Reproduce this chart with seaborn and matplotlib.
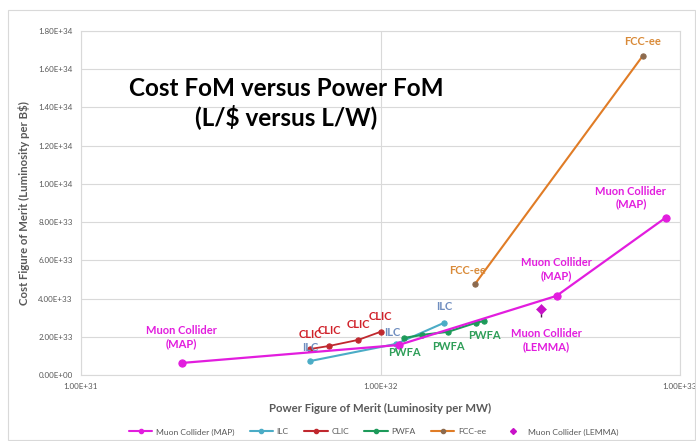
import numpy as np
import pandas as pd
import matplotlib
matplotlib.use("Agg")
import matplotlib.pyplot as plt
from matplotlib.lines import Line2D
from matplotlib.patches import Rectangle
import seaborn as sns

# ---------------- data ----------------
map_x = [2.17e31, 1.15e32, 3.87e32, 8.97e32]
map_y = [6.3e32, 1.57e33, 4.14e33, 8.24e33]
ilc_x = [5.82e31, 1.13e32, 1.63e32]
ilc_y = [7.3e32, 1.63e33, 2.73e33]
clic_x = [5.82e31, 6.74e31, 8.44e31, 1.0e32]
clic_y = [1.36e33, 1.52e33, 1.84e33, 2.26e33]
pwfa_x = [1.20e32, 1.38e32, 1.68e32, 2.08e32, 2.22e32]
pwfa_y = [1.94e33, 2.10e33, 2.26e33, 2.73e33, 2.83e33]
fcc_x = [2.07e32, 7.51e32]
fcc_y = [4.77e33, 1.67e34]
lemma_x = [3.44e32]
lemma_y = [3.46e33]
lemma_err_low = [0.45e33]

series_names = ["Muon Collider (MAP)", "ILC", "CLIC", "PWFA", "FCC-ee", "Muon Collider (LEMMA)"]
y_ticks = [0, 2e33, 4e33, 6e33, 8e33, 1e34, 1.2e34, 1.4e34, 1.6e34, 1.8e34]
x_ticks = [1e31, 1e32, 1e33]

title_text = "Cost FoM versus Power FoM\n(L/$ versus L/W)"
x_label = "Power Figure of Merit (Luminosity per MW)"
y_label = "Cost Figure of Merit (Luminosity per B$)"

# ---------------- style ----------------
sns.set_style("white")
plt.rcParams['font.family'] = ['Lato', 'DejaVu Sans']

c_map = "#E21DDE"
c_ilc = "#4BACC6"
c_ilc_lab = "#6F8DBF"
c_clic = "#C0282E"
c_clic_lab = "#D0212A"
c_pwfa = "#1D9A5A"
c_pwfa_lab = "#2E9E58"
c_fcc = "#E07C26"
c_fcc_mk = "#8C6A4E"
c_fcc_lab = "#D98A38"
c_lemma = "#C811C8"
grey = "#595959"
gridc = "#D9D9D9"

fig = plt.figure(figsize=(6.96, 4.41), dpi=100)
ax = fig.add_axes([81/696, 1 - 375/441, (680-81)/696, (375-31)/441])

# outer chart frame
fig.patches.append(Rectangle((8/696, 1/441), (695-8)/696, (430)/441, transform=fig.transFigure,
                             fill=False, edgecolor=gridc, linewidth=0.8))

def draw(xs, ys, color, mcolor, ms, lw):
    df = pd.DataFrame({"x": xs, "y": ys})
    sns.lineplot(data=df, x="x", y="y", ax=ax, color=color, linewidth=lw, sort=False,
                 estimator=None, marker="o", markersize=ms, markerfacecolor=mcolor,
                 markeredgecolor=mcolor, zorder=3)

draw(fcc_x, fcc_y, c_fcc, c_fcc_mk, 3.8, 1.5)
draw(ilc_x, ilc_y, c_ilc, c_ilc, 3.8, 1.5)
draw(clic_x, clic_y, c_clic, c_clic, 3.8, 1.3)
draw(pwfa_x, pwfa_y, c_pwfa, c_pwfa, 3.8, 1.5)
draw(map_x, map_y, c_map, c_map, 5.2, 1.6)

ax.errorbar(lemma_x, lemma_y, yerr=[lemma_err_low, [0]], fmt="none", ecolor="#4A1A4A",
            elinewidth=1.0, capsize=0, zorder=4)
sns.scatterplot(x=lemma_x, y=lemma_y, ax=ax, marker="D", s=26, color=c_lemma,
                edgecolor=c_lemma, zorder=5)

ax.set_xscale("log")
ax.set_xlim(1e31, 1e33)
ax.set_ylim(0, 1.8e34)
ax.set_xticks(x_ticks)
ax.set_xticklabels(["{:.2E}".format(v) for v in x_ticks])
ax.xaxis.set_minor_locator(matplotlib.ticker.NullLocator())
ax.set_yticks(y_ticks)
ax.set_yticklabels(["{:.2E}".format(v) for v in y_ticks])
ax.tick_params(axis="both", length=0, labelsize=5.8, labelcolor=grey, pad=6)
ax.grid(True, which="major", color=gridc, linewidth=0.8)
ax.set_axisbelow(True)
for s in ax.spines.values():
    s.set_color(gridc)
    s.set_linewidth(0.8)

ax.set_xlabel(x_label, fontsize=8.2, fontweight="bold", color=grey, labelpad=9)
ax.set_ylabel(y_label, fontsize=8.2, fontweight="bold", color=grey, labelpad=6)

ax.text(0.342, 0.79, title_text, transform=ax.transAxes, ha="center", va="center",
        fontsize=17.5, fontweight="bold", color="black", linespacing=1.2)

def lab(x, y, text, color, dx, dy, va="center"):
    ax.annotate(text, xy=(x, y), xytext=(dx, dy), textcoords="offset pixels",
                ha="center", va=va, fontsize=8, fontweight="bold", color=color,
                linespacing=1.2, zorder=6)

# data labels
lab(map_x[0], map_y[0], "Muon Collider\n(MAP)", c_map, 0, 26)
lab(map_x[2], map_y[2], "Muon Collider\n(MAP)", c_map, 0, 27)
lab(map_x[3], map_y[3], "Muon Collider\n(MAP)", c_map, -35, 20)
lab(lemma_x[0], lemma_y[0], "Muon Collider\n(LEMMA)", c_map, 5, -31)
lab(ilc_x[0], ilc_y[0], "ILC", c_ilc_lab, 0, 14)
lab(ilc_x[1], ilc_y[1], "ILC", c_ilc_lab, -4, 11)
lab(ilc_x[2], ilc_y[2], "ILC", c_ilc_lab, 0, 16)
for xx, yy in zip(clic_x, clic_y):
    lab(xx, yy, "CLIC", c_clic_lab, 0, 15)
for i in (0, 2, 4):
    lab(pwfa_x[i], pwfa_y[i], "PWFA", c_pwfa_lab, 0, -15)
lab(fcc_x[0], fcc_y[0], "FCC-ee", c_fcc_lab, -8, 13)
lab(fcc_x[1], fcc_y[1], "FCC-ee", c_fcc_lab, 0, 14)

# legend
handles = [
    Line2D([], [], color=c_map, marker="o", markersize=3, linewidth=1.5),
    Line2D([], [], color=c_ilc, marker="o", markersize=3, linewidth=1.5),
    Line2D([], [], color=c_clic, marker="o", markersize=3, linewidth=1.5),
    Line2D([], [], color=c_pwfa, marker="o", markersize=3, linewidth=1.5),
    Line2D([], [], color=c_fcc, marker="o", markersize=3, markerfacecolor=c_fcc_mk,
           markeredgecolor=c_fcc_mk, linewidth=1.5),
    Line2D([], [], color=c_lemma, marker="D", markersize=3, linewidth=0),
]
fig.legend(handles, series_names, loc="center", bbox_to_anchor=(0.537, 1 - 432/441),
           ncol=6, frameon=False, fontsize=6.1, labelcolor=grey, handlelength=2.8,
           columnspacing=1.8, handletextpad=0.4)

fig.savefig("out.png", dpi=100)
